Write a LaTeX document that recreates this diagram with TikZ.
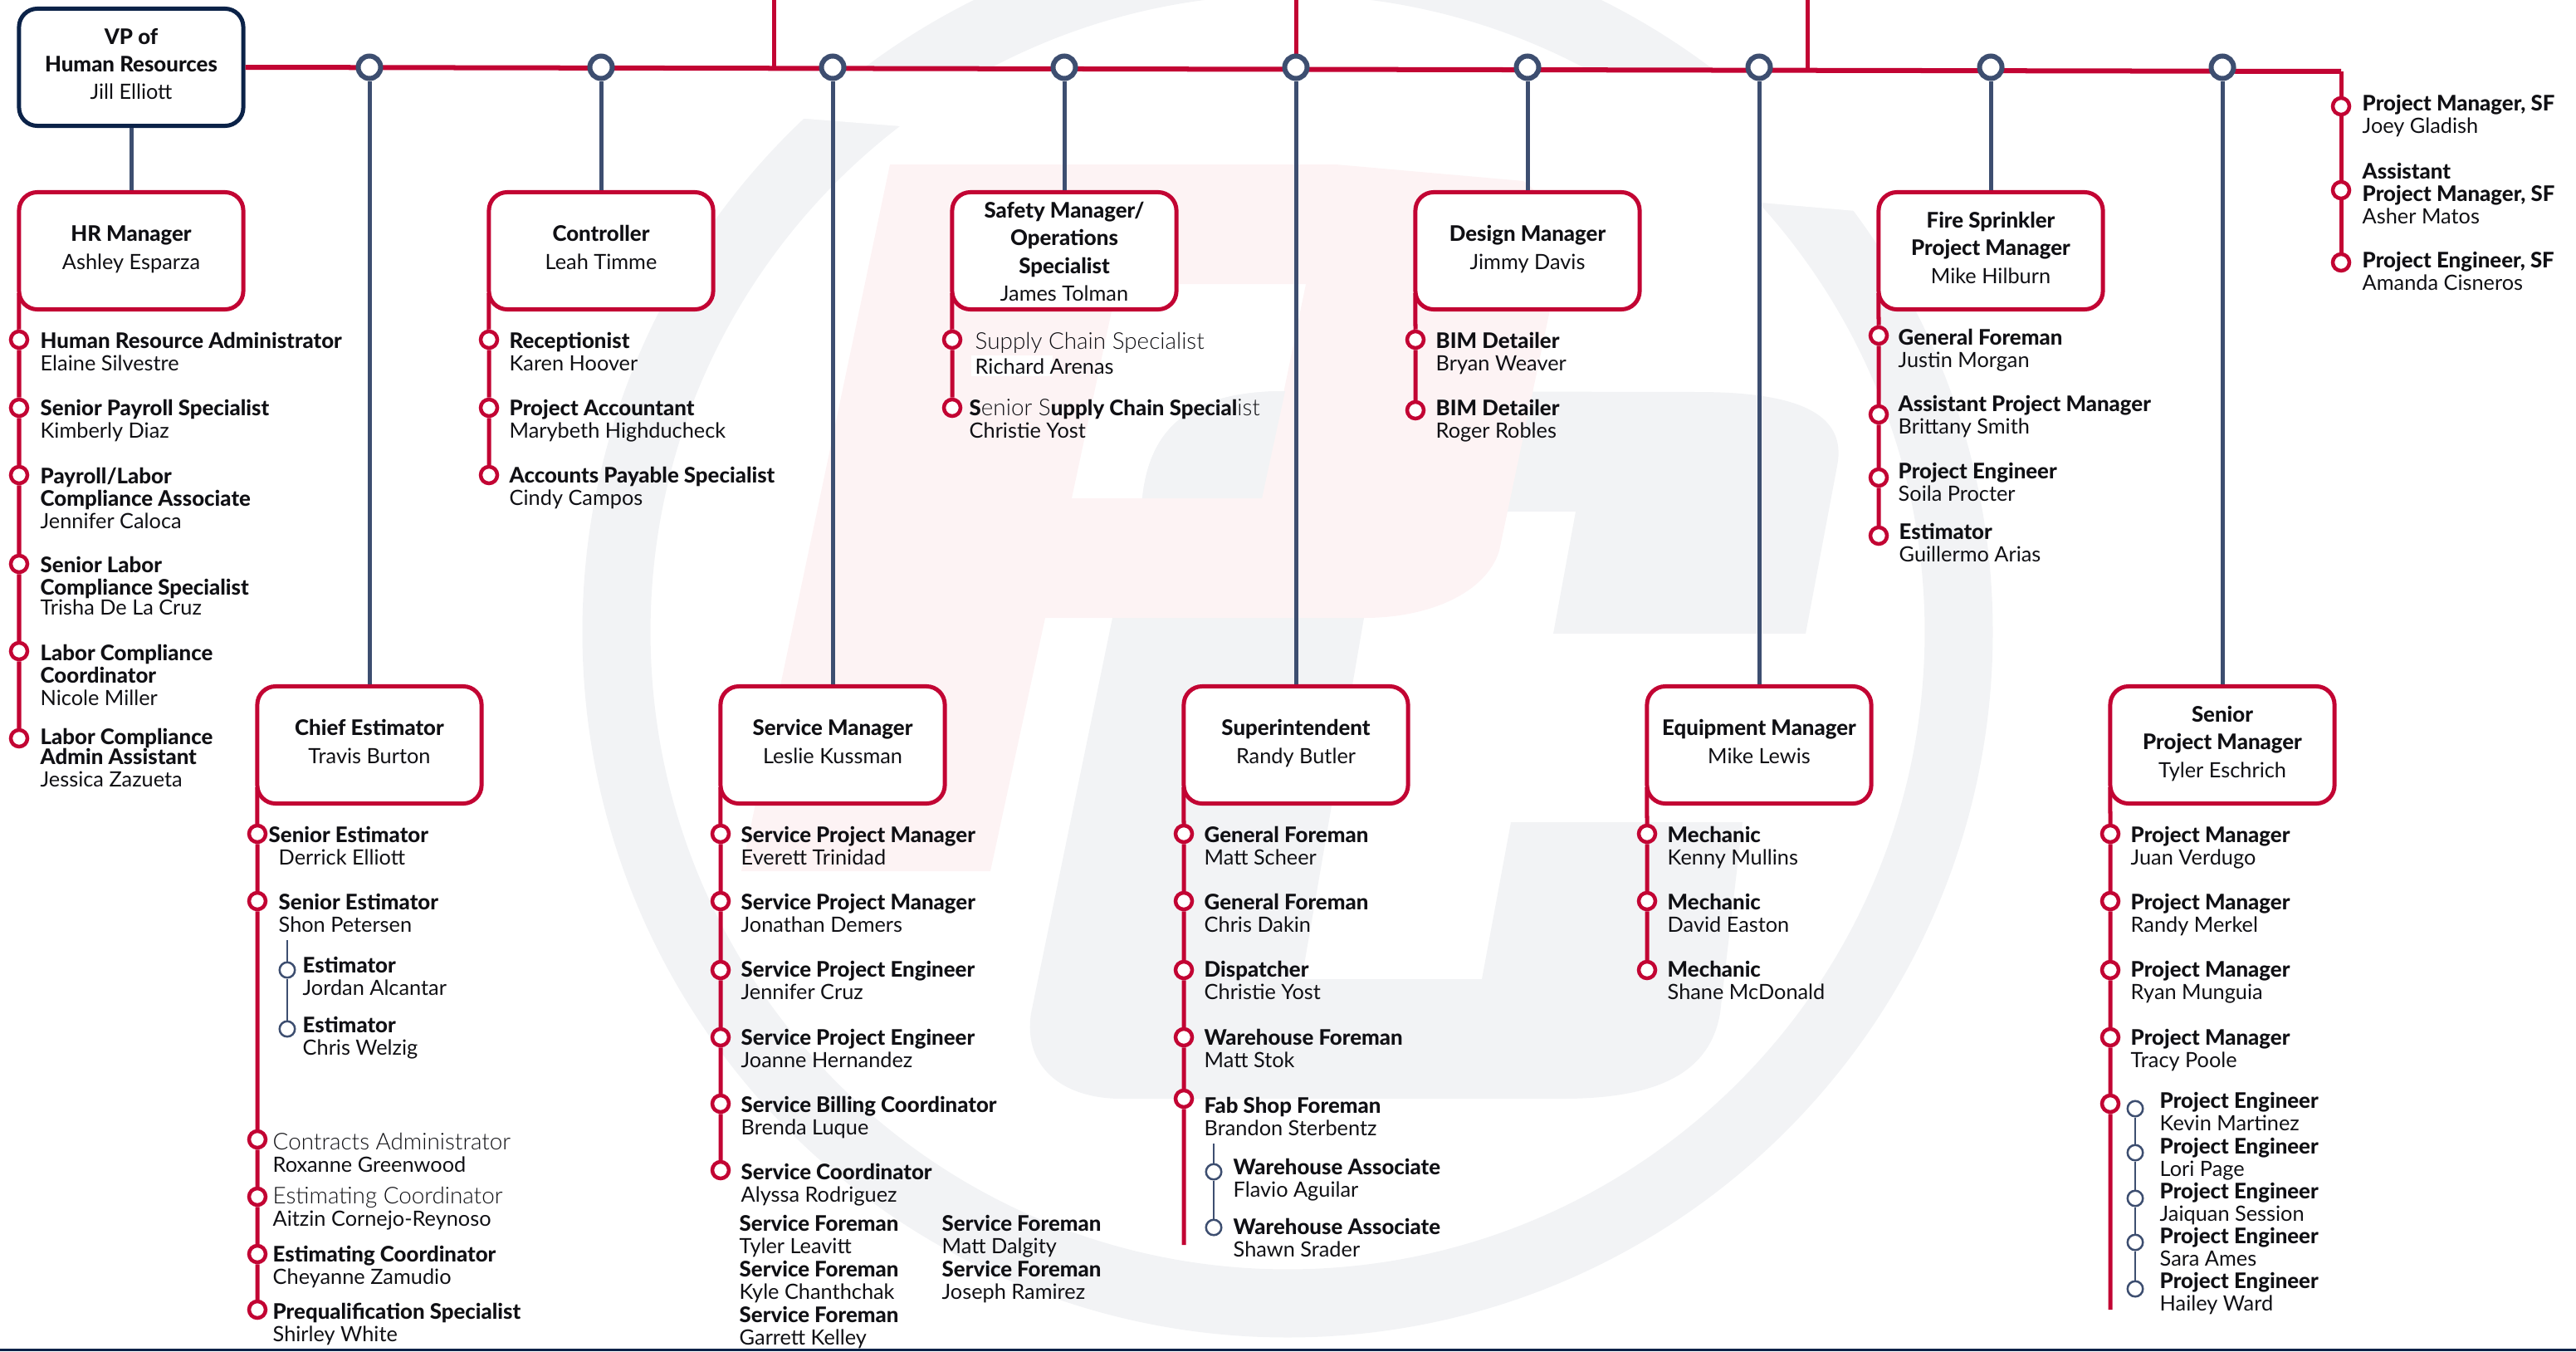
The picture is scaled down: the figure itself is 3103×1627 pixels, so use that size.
\documentclass[tikz,border=0pt]{standalone}
\usepackage{fontspec}
\setmainfont{Lato}[BoldFont={Lato Heavy},BoldFeatures={Scale=1.02}]
\newfontfamily\lightface{Lato Light}[Scale=1.1]
\usepackage{tikz}
\definecolor{crim}{HTML}{C20433}
\definecolor{navyd}{HTML}{0B2248}
\definecolor{slate}{HTML}{3D4E70}
\definecolor{ringgrey}{HTML}{F2F3F5}
\definecolor{logopink}{HTML}{FDF3F4}
\definecolor{ink}{HTML}{101014}
\tikzset{
  lbox/.style={draw=crim,fill=white,line width=0.05cm,rounded corners=0.22cm,minimum width=2.7cm,minimum height=1.41cm,inner sep=0,align=center,text=ink,font=\fontsize{7.2}{9.5}\selectfont,execute at begin node={\rule{0pt}{6pt}},execute at end node={\rule[-2.3pt]{0pt}{0pt}}},
  staff/.style={anchor=west,inner sep=0,align=left,text=ink,yshift=-0.023cm,font=\fontsize{7.2}{7.7}\selectfont,execute at begin node={\rule{0pt}{5.6pt}},execute at end node={\rule[-1.6pt]{0pt}{0pt}}},
  rdot/.style={circle,draw=crim,fill=white,line width=0.045cm,minimum size=0.2cm,inner sep=0},
  sdot/.style={circle,draw=slate,fill=white,line width=0.025cm,minimum size=0.185cm,inner sep=0},
  hub/.style={circle,draw=slate,fill=white,line width=0.06cm,minimum size=0.27cm,inner sep=0},
  redrail/.style={draw=crim,line width=0.05cm},
  stem/.style={draw=slate,line width=0.05cm},
  subrail/.style={draw=slate,line width=0.025cm},
  railstart/.style={xshift=0.025cm,yshift=0.22cm}
}
\begin{document}
\begin{tikzpicture}[x=0.01cm,y=-0.01cm]
      \useasboundingbox (0,0) rectangle (3103,1627);
      % ring
      \fill[ringgrey,even odd rule] (1551,761) circle [radius=8.49cm] (1551,761) circle [radius=7.67cm];
      \fill[white] (880,84) -- (1350,84) -- (1350,173) -- (1085,152) -- (971,143) -- (880,136) -- cycle;
      \fill[white] (1750,84) -- (2420,84) -- (2420,270) -- (2235,254) -- (2121,244) -- (1750,212) -- cycle;
      % grey letter
      \fill[ringgrey] (1376,600) .. controls (1385,510) and (1440,471) .. (1548,471) -- (2045,472) .. controls (2170,472) and (2225,500) .. (2213,561) -- (2175,763) -- (1871,763) -- (1898,616) -- (1600,616) -- (1520,600) -- cycle;
      \fill[ringgrey] (1340,744) -- (1242,1220) .. controls (1232,1285) and (1280,1323) .. (1351,1323) -- (1882,1323) .. controls (2000,1323) and (2060,1290) .. (2072,1220) -- (2099,990) -- (1820,990) -- (1785,1179) -- (1568,1179) -- (1643,744) -- cycle;
      % pink letter
      \fill[logopink,even odd rule] (1072,198) -- (1609,198) -- (1835,218) .. controls (1870,240) and (1875,300) .. (1866,378) -- (1806,663) .. controls (1790,715) and (1720,744) .. (1644,744) -- (1259,744) -- (1193,1049) -- (893,1049) -- cycle
        (1346,342) -- (1573,342) -- (1520,600) -- (1291,600) -- cycle;
      \fill[ringgrey] (1520,600) -- (1376,600) .. controls (1385,510) and (1440,471) .. (1548,471) -- cycle;
      \fill[white] (1170,428) rectangle (1268,453);
      % bottom bar
      \fill[navyd] (0,1624) rectangle (3103,1627);

      % vp and main line
      \node[lbox,draw=navyd] (vp) at (158,81) {\textbf{VP of}\\\textbf{Human Resources}\\Jill Elliott};
      \coordinate (mainend) at (2820,86);
      \coordinate (topA) at (932,0);
      \coordinate (joinA) at (932,83);
      \coordinate (topB) at (1561,0);
      \coordinate (joinB) at (1561,84);
      \coordinate (topC) at (2177,0);
      \coordinate (joinC) at (2177,85);
      \draw[redrail,line width=0.06cm] (vp.east) -- (mainend);
      \draw[redrail] (topA) -- (joinA);
      \draw[redrail] (topB) -- (joinB);
      \draw[redrail] (topC) -- (joinC);
      \node[hub] (hub1) at (445,81) {};
      \node[hub] (hub2) at (724,81) {};
      \node[hub] (hub3) at (1003,81) {};
      \node[hub] (hub4) at (1282,81) {};
      \node[hub] (hub5) at (1561,81) {};
      \node[hub] (hub6) at (1840,81) {};
      \node[hub] (hub7) at (2119,81) {};
      \node[hub] (hub8) at (2398,81) {};
      \node[hub] (hub9) at (2677,81) {};

      % manager boxes
      \node[lbox] (hrm) at (158,302) {\textbf{HR Manager}\\Ashley Esparza};
      \node[lbox] (ctl) at (724,302) {\textbf{Controller}\\Leah Timme};
      \node[lbox] (saf) at (1282,302) {\rule{0pt}{8.3pt}\textbf{Safety Manager/}\\\textbf{Operations}\\\textbf{Specialist}\\James Tolman};
      \node[lbox] (dsg) at (1840,302) {\textbf{Design Manager}\\Jimmy Davis};
      \node[lbox] (frs) at (2398,302) {\textbf{Fire Sprinkler}\\\textbf{Project Manager}\\Mike Hilburn};
      \node[lbox] (est) at (445,897) {\textbf{Chief Estimator}\\Travis Burton};
      \node[lbox] (svc) at (1003,897) {\textbf{Service Manager}\\Leslie Kussman};
      \node[lbox] (sup) at (1561,897) {\textbf{Superintendent}\\Randy Butler};
      \node[lbox] (eqp) at (2119,897) {\textbf{Equipment Manager}\\Mike Lewis};
      \node[lbox] (spm) at (2677,897) {\textbf{Senior}\\\textbf{Project Manager}\\Tyler Eschrich};
      \draw[stem] (vp) -- (hrm);
      \draw[stem] (hub1) -- (est);
      \draw[stem] (hub2) -- (ctl);
      \draw[stem] (hub3) -- (svc);
      \draw[stem] (hub4) -- (saf);
      \draw[stem] (hub5) -- (sup);
      \draw[stem] (hub6) -- (dsg);
      \draw[stem] (hub7) -- (eqp);
      \draw[stem] (hub8) -- (frs);
      \draw[stem] (hub9) -- (spm);

      % hr list
      \node[rdot] (hr1) at (23,409) {};
      \node[rdot] (hr2) at (23,491) {};
      \node[rdot] (hr3) at (23,572) {};
      \node[rdot] (hr4) at (23,679) {};
      \node[rdot] (hr5) at (23,784) {};
      \node[rdot] (hr6) at (23,889) {};
      \node[staff] (hr1t) at (48,424) {\textbf{Human Resource Administrator}\\Elaine Silvestre};
      \node[staff] (hr2t) at (48,505) {\textbf{Senior Payroll Specialist}\\Kimberly Diaz};
      \node[staff] (hr3t) at (48,600) {\textbf{Payroll/Labor}\\\textbf{Compliance Associate}\\Jennifer Caloca};
      \node[staff] (hr4t) at (48,706) {\textbf{Senior Labor}\\\textbf{Compliance Specialist}\\[-1pt]Trisha De La Cruz};
      \node[staff] (hr5t) at (48,813) {\textbf{Labor Compliance}\\\textbf{Coordinator}\\Nicole Miller};
      \node[staff] (hr6t) at (48,913) {\textbf{Labor Compliance}\\[-1pt]\textbf{Admin Assistant}\\Jessica Zazueta};
      \draw[redrail] ([railstart]hrm.south west) -- (hr1) -- (hr2) -- (hr3) -- (hr4) -- (hr5) -- (hr6);

      % controller list
      \node[rdot] (ct1) at (589,409) {};
      \node[rdot] (ct2) at (589,491) {};
      \node[rdot] (ct3) at (589,572) {};
      \node[staff] (ct1t) at (613,424) {\textbf{Receptionist}\\Karen Hoover};
      \node[staff] (ct2t) at (613,505) {\textbf{Project Accountant}\\Marybeth Highducheck};
      \node[staff] (ct3t) at (613,586) {\textbf{Accounts Payable Specialist}\\Cindy Campos};
      \draw[redrail] ([railstart]ctl.south west) -- (ct1) -- (ct2) -- (ct3);

      % safety list
      \node[rdot] (sf1) at (1147,409) {};
      \node[rdot] (sf2) at (1147,491) {};
      \node[staff] (sf1t) at (1174,426) {{\lightface Supply Chain Specialist}\\[1pt]Richard Arenas};
      \node[staff] (sf2t) at (1167,505) {\textbf{S}{\lightface enior S}\textbf{upply Chain Special}{\lightface ist}\\Christie Yost};
      \draw[redrail] ([railstart]saf.south west) -- (sf1) -- (sf2);

      % design list
      \node[rdot] (ds1) at (1705,409) {};
      \node[rdot] (ds2) at (1705,494) {};
      \node[staff] (ds1t) at (1729,424) {\textbf{BIM Detailer}\\Bryan Weaver};
      \node[staff] (ds2t) at (1729,505) {\textbf{BIM Detailer}\\Roger Robles};
      \draw[redrail] ([railstart]dsg.south west) -- (ds1) -- (ds2);

      % fire sprinkler list
      \node[rdot] (fr1) at (2263,404) {};
      \node[rdot] (fr2) at (2263,499) {};
      \node[rdot] (fr3) at (2263,575) {};
      \node[rdot] (fr4) at (2263,645) {};
      \node[staff] (fr1t) at (2286,420) {\textbf{General Foreman}\\Justin Morgan};
      \node[staff] (fr2t) at (2286,500) {\textbf{Assistant Project Manager}\\Brittany Smith};
      \node[staff] (fr3t) at (2286,581) {\textbf{Project Engineer}\\Soila Procter};
      \node[staff] (fr4t) at (2287,654) {\textbf{Estimator}\\Guillermo Arias};
      \draw[redrail] ([railstart]frs.south west) -- (fr1) -- (fr2) -- (fr3) -- (fr4);

      % sf list
      \node[rdot] (pm1) at (2820,128) {};
      \node[rdot] (pm2) at (2820,229) {};
      \node[rdot] (pm3) at (2820,316) {};
      \node[staff] (pm1t) at (2845,138) {\textbf{Project Manager, SF}\\Joey Gladish};
      \node[staff] (pm2t) at (2845,233) {\textbf{Assistant}\\\textbf{Project Manager, SF}\\Asher Matos};
      \node[staff] (pm3t) at (2845,327) {\textbf{Project Engineer, SF}\\Amanda Cisneros};
      \draw[redrail] (mainend) -- (pm1) -- (pm2) -- (pm3);

      % estimator list
      \node[rdot] (es1) at (310,1004) {};
      \node[rdot] (es2) at (310,1085) {};
      \node[rdot] (es3) at (310,1372) {};
      \node[rdot] (es4) at (310,1441) {};
      \node[rdot] (es5) at (310,1510) {};
      \node[rdot] (es6) at (310,1577) {};
      \node[staff] (es1t) at (323,1019) {\textbf{Senior Estimator}\\\hspace*{0.12cm}Derrick Elliott};
      \node[staff] (es2t) at (335,1100) {\textbf{Senior Estimator}\\Shon Petersen};
      \node[staff] (es3t) at (328,1388) {{\lightface Contracts Administrator}\\Roxanne Greenwood};
      \node[staff] (es4t) at (328,1453) {{\lightface Estimating Coordinator}\\Aitzin Cornejo-Reynoso};
      \node[staff] (es5t) at (328,1524) {\textbf{Estimating Coordinator}\\Cheyanne Zamudio};
      \node[staff] (es6t) at (328,1593) {\textbf{Prequalification Specialist}\\Shirley White};
      \draw[redrail] ([railstart]est.south west) -- (es1) -- (es2) -- (es3) -- (es4) -- (es5) -- (es6);
      % estimators under shon
      \coordinate (essub) at (346,1132);
      \node[sdot] (su1) at (346,1168) {};
      \node[sdot] (su2) at (346,1239) {};
      \node[staff] (su1t) at (364,1176) {\textbf{Estimator}\\Jordan Alcantar};
      \node[staff] (su2t) at (364,1248) {\textbf{Estimator}\\Chris Welzig};
      \draw[subrail] (essub) -- (su1) -- (su2);

      % service list
      \node[rdot] (sv1) at (868,1004) {};
      \node[rdot] (sv2) at (868,1085) {};
      \node[rdot] (sv3) at (868,1168) {};
      \node[rdot] (sv4) at (868,1249) {};
      \node[rdot] (sv5) at (868,1329) {};
      \node[rdot] (sv6) at (868,1409) {};
      \node[staff] (sv1t) at (892,1019) {\textbf{Service Project Manager}\\Everett Trinidad};
      \node[staff] (sv2t) at (892,1100) {\textbf{Service Project Manager}\\Jonathan Demers};
      \node[staff] (sv3t) at (892,1181) {\textbf{Service Project Engineer}\\Jennifer Cruz};
      \node[staff] (sv4t) at (892,1263) {\textbf{Service Project Engineer}\\Joanne Hernandez};
      \node[staff] (sv5t) at (892,1344) {\textbf{Service Billing Coordinator}\\Brenda Luque};
      \node[staff] (sv6t) at (892,1425) {\textbf{Service Coordinator}\\Alyssa Rodriguez};
      \draw[redrail] ([railstart]svc.south west) -- (sv1) -- (sv2) -- (sv3) -- (sv4) -- (sv5) -- (sv6);
      % service foremen
      \node[staff] (fm1) at (890,1487) {\textbf{Service Foreman}\\Tyler Leavitt};
      \node[staff] (fm2) at (890,1542) {\textbf{Service Foreman}\\Kyle Chanthchak};
      \node[staff] (fm3) at (890,1597) {\textbf{Service Foreman}\\Garrett Kelley};
      \node[staff] (fm4) at (1134,1487) {\textbf{Service Foreman}\\Matt Dalgity};
      \node[staff] (fm5) at (1134,1542) {\textbf{Service Foreman}\\Joseph Ramirez};

      % superintendent list
      \coordinate (suend) at (1426,1499);
      \node[rdot] (si1) at (1426,1004) {};
      \node[rdot] (si2) at (1426,1085) {};
      \node[rdot] (si3) at (1426,1168) {};
      \node[rdot] (si4) at (1426,1249) {};
      \node[rdot] (si5) at (1426,1323) {};
      \node[staff] (si1t) at (1450,1019) {\textbf{General Foreman}\\Matt Scheer};
      \node[staff] (si2t) at (1450,1100) {\textbf{General Foreman}\\Chris Dakin};
      \node[staff] (si3t) at (1450,1181) {\textbf{Dispatcher}\\Christie Yost};
      \node[staff] (si4t) at (1450,1263) {\textbf{Warehouse Foreman}\\Matt Stok};
      \node[staff] (si5t) at (1450,1345) {\textbf{Fab Shop Foreman}\\Brandon Sterbentz};
      \draw[redrail] ([railstart]sup.south west) -- (si1) -- (si2) -- (si3) -- (si4) -- (si5) -- (suend);
      % warehouse associates
      \coordinate (wasub) at (1462,1377);
      \node[sdot] (wa1) at (1462,1411) {};
      \node[sdot] (wa2) at (1462,1478) {};
      \node[staff] (wa1t) at (1485,1419) {\textbf{Warehouse Associate}\\Flavio Aguilar};
      \node[staff] (wa2t) at (1485,1491) {\textbf{Warehouse Associate}\\Shawn Srader};
      \draw[subrail] (wasub) -- (wa1) -- (wa2);

      % equipment list
      \node[rdot] (eq1) at (1984,1004) {};
      \node[rdot] (eq2) at (1984,1085) {};
      \node[rdot] (eq3) at (1984,1168) {};
      \node[staff] (eq1t) at (2008,1019) {\textbf{Mechanic}\\Kenny Mullins};
      \node[staff] (eq2t) at (2008,1100) {\textbf{Mechanic}\\David Easton};
      \node[staff] (eq3t) at (2008,1181) {\textbf{Mechanic}\\Shane McDonald};
      \draw[redrail] ([railstart]eqp.south west) -- (eq1) -- (eq2) -- (eq3);

      % senior pm list
      \coordinate (spend) at (2542,1577);
      \node[rdot] (sp1) at (2542,1004) {};
      \node[rdot] (sp2) at (2542,1085) {};
      \node[rdot] (sp3) at (2542,1168) {};
      \node[rdot] (sp4) at (2542,1249) {};
      \node[rdot] (sp5) at (2542,1329) {};
      \node[staff] (sp1t) at (2566,1019) {\textbf{Project Manager}\\Juan Verdugo};
      \node[staff] (sp2t) at (2566,1100) {\textbf{Project Manager}\\Randy Merkel};
      \node[staff] (sp3t) at (2566,1181) {\textbf{Project Manager}\\Ryan Munguia};
      \node[staff] (sp4t) at (2566,1263) {\textbf{Project Manager}\\Tracy Poole};
      \draw[redrail] ([railstart]spm.south west) -- (sp1) -- (sp2) -- (sp3) -- (sp4) -- (sp5) -- (spend);
      % project engineers
      \node[sdot] (pe1) at (2572,1335) {};
      \node[sdot] (pe2) at (2572,1388) {};
      \node[sdot] (pe3) at (2572,1443) {};
      \node[sdot] (pe4) at (2572,1496) {};
      \node[sdot] (pe5) at (2572,1552) {};
      \node[staff] (pe1t) at (2601,1339) {\textbf{Project Engineer}\\Kevin Martinez};
      \node[staff] (pe2t) at (2601,1394) {\textbf{Project Engineer}\\Lori Page};
      \node[staff] (pe3t) at (2601,1448) {\textbf{Project Engineer}\\Jaiquan Session};
      \node[staff] (pe4t) at (2601,1502) {\textbf{Project Engineer}\\Sara Ames};
      \node[staff] (pe5t) at (2601,1556) {\textbf{Project Engineer}\\Hailey Ward};
      \draw[subrail] (pe1) -- (pe2) -- (pe3) -- (pe4) -- (pe5);
\end{tikzpicture}
\end{document}
